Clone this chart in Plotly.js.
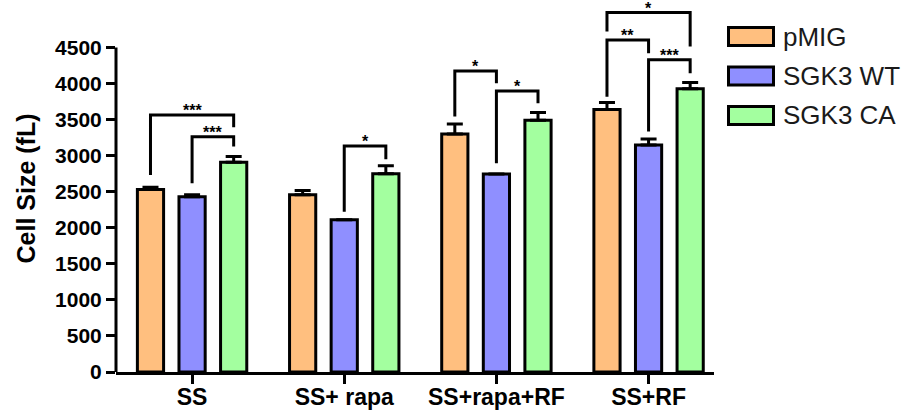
<!DOCTYPE html>
<html>
<head>
<meta charset="utf-8">
<script src="https://cdn.plot.ly/plotly-3.0.1.min.js"></script>
<style>
  html, body { margin: 0; padding: 0; background: #ffffff; }
  #chart { width: 915px; height: 412px; }
</style>
</head>
<body>
<div id="chart"></div>
<script>
// ---------------- data ----------------
const categories = ['SS', 'SS+ rapa', 'SS+rapa+RF', 'SS+RF'];
const seriesNames = ['pMIG', 'SGK3 WT', 'SGK3 CA'];
const pMIG = [2530, 2460, 3300, 3640];
const pMIGErr = [34, 58, 138, 99];
const sgk3WT = [2430, 2110, 2745, 3150];
const sgk3WTErr = [28, 0, 0, 80];
const sgk3CA = [2910, 2750, 3490, 3930];
const sgk3CAErr = [80, 110, 110, 86];
const yTickVals = [0, 500, 1000, 1500, 2000, 2500, 3000, 3500, 4000, 4500];

// significance brackets (category index, from bar, to bar, left-leg bottom, top, right-leg bottom, label)
const bracketCat   = [0, 0, 1, 2, 2, 3, 3, 3];
const bracketFrom  = [0, 1, 1, 0, 1, 0, 0, 1];
const bracketTo    = [2, 2, 2, 1, 2, 2, 1, 2];
const bracketLeft  = [2733, 2618, 2224, 3542, 2895, 4721, 3819, 3334];
const bracketTop   = [3565, 3264, 3135, 4176, 3898, 4985, 4606, 4329];
const bracketRight = [3395, 3126, 2951, 4005, 3728, 4513, 4421, 4144];
const bracketLabel = ['***', '***', '*', '*', '*', '*', '**', '***'];

// ---------------- style ----------------
const fills = ['#FFBF7F', '#8F8FFF', '#A3FF9F'];
const FONT = 'Liberation Sans, Arial, Helvetica, sans-serif';
const BARGAP = 0.18;
const BARGROUPGAP = 0.37;
const M = {l: 116, r: 201, t: 5, b: 40};
const W = 915, H = 412;
const PW = W - M.l - M.r, PH = H - M.t - M.b;
const YMAX = 5090;

const values = [pMIG, sgk3WT, sgk3CA];
const errs = [pMIGErr, sgk3WTErr, sgk3CAErr];

const traces = seriesNames.map((name, i) => ({
  type: 'bar',
  name: name,
  x: categories.map((c, k) => k),
  y: values[i],
  marker: {color: fills[i], line: {color: '#000000', width: 3}},
  error_y: {
    type: 'data', symmetric: false,
    array: errs[i], arrayminus: errs[i].map(() => 0),
    color: '#000000', thickness: 3, width: 8
  },
  showlegend: false,
  hoverinfo: 'skip'
}));

// bar centre offset within group (category units)
const slot = (1 - BARGAP) / 3;
function barX(cat, idx) { return cat + (idx - 1) * slot; }

const shapes = [];
const annotations = [];

// y-axis line from 0 to 4500
shapes.push({type: 'line', xref: 'paper', yref: 'y', x0: 0, x1: 0, y0: 0, y1: 4500,
  line: {color: '#000000', width: 3}});

// brackets
for (let i = 0; i < bracketCat.length; i++) {
  const xl = barX(bracketCat[i], bracketFrom[i]);
  const xr = barX(bracketCat[i], bracketTo[i]);
  shapes.push({
    type: 'path', xref: 'x', yref: 'y',
    path: `M ${xl},${bracketLeft[i]} L ${xl},${bracketTop[i]} L ${xr},${bracketTop[i]} L ${xr},${bracketRight[i]}`,
    line: {color: '#000000', width: 3}
  });
  annotations.push({
    xref: 'x', yref: 'y', x: (xl + xr) / 2, y: bracketTop[i],
    text: bracketLabel[i], showarrow: false, xanchor: 'center', yanchor: 'bottom',
    yshift: -6, font: {family: FONT, size: 16, color: '#000000', weight: 'bold'}
  });
}

// custom legend (large swatches)
function px2x(p) { return (p - M.l) / PW; }
function px2y(p) { return (H - M.b - p) / PH; }
const legendTop = [27.5, 67, 106.5];
seriesNames.forEach((name, i) => {
  shapes.push({
    type: 'rect', xref: 'paper', yref: 'paper',
    x0: px2x(728.5), x1: px2x(773.5), y0: px2y(legendTop[i]), y1: px2y(legendTop[i] + 18),
    fillcolor: fills[i], line: {color: '#000000', width: 3}
  });
  annotations.push({
    xref: 'paper', yref: 'paper', x: px2x(781), y: px2y(legendTop[i] + 9),
    xanchor: 'left', yanchor: 'middle', showarrow: false, text: name,
    font: {family: FONT, size: 26, color: '#1a1a1a'}
  });
});

const layout = {
  width: W, height: H,
  margin: M,
  paper_bgcolor: '#ffffff', plot_bgcolor: '#ffffff',
  barmode: 'group', bargap: BARGAP, bargroupgap: BARGROUPGAP,
  showlegend: false,
  font: {family: FONT, color: '#000000'},
  xaxis: {
    range: [-0.5, 3.43],
    tickmode: 'array', tickvals: categories.map((c, k) => k), ticktext: categories,
    ticks: 'outside', ticklen: 9, tickwidth: 3, tickcolor: '#000000',
    ticklabelstandoff: -7,
    showline: true, linecolor: '#000000', linewidth: 3,
    showgrid: false, zeroline: false,
    tickfont: {family: FONT, size: 23, color: '#000000', weight: 'bold'}
  },
  yaxis: {
    range: [0, YMAX],
    tickmode: 'array', tickvals: yTickVals,
    ticks: 'outside', ticklen: 9, tickwidth: 3, tickcolor: '#000000',
    showline: false, showgrid: false, zeroline: false,
    tickfont: {family: FONT, size: 21, color: '#000000', weight: 'bold'},
    title: {text: 'Cell Size (fL)', standoff: 12,
      font: {family: FONT, size: 25, color: '#000000', weight: 'bold'}}
  },
  shapes: shapes,
  annotations: annotations
};

Plotly.newPlot('chart', traces, layout, {displayModeBar: false, staticPlot: true});
</script>
</body>
</html>
